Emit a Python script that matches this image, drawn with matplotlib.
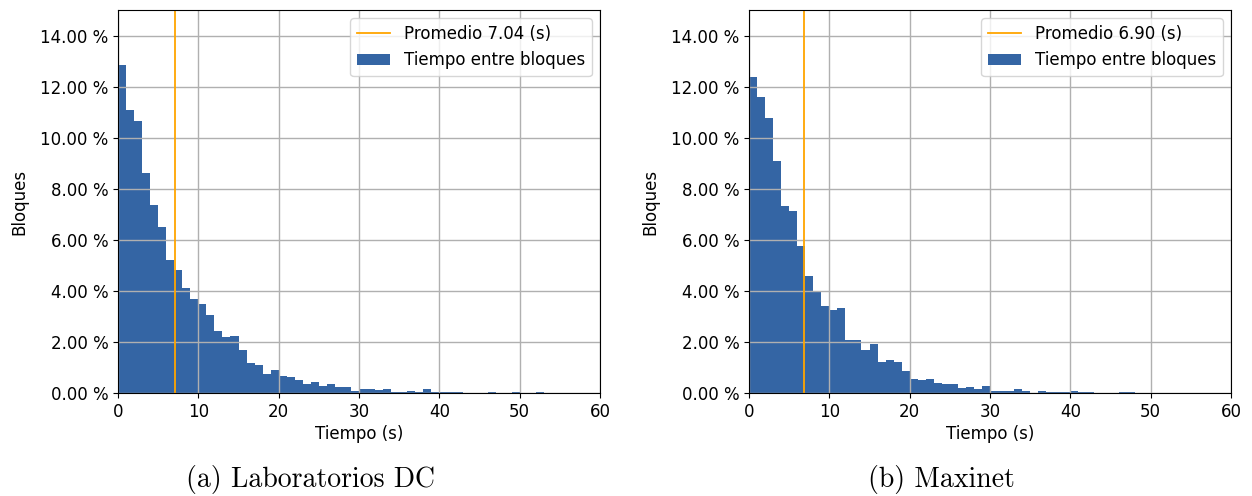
import matplotlib
matplotlib.use('Agg')
import matplotlib.pyplot as plt
from matplotlib.ticker import FuncFormatter
import numpy as np

# porcentaje de bloques por intervalo de 1 s (0..60 s)
lab_pct = [12.83, 11.07, 10.64, 8.61, 7.36, 6.50, 5.21, 4.82, 4.12, 3.69,
           3.49, 3.06, 2.44, 2.18, 2.24, 1.69, 1.19, 1.11, 0.76, 0.91,
           0.68, 0.64, 0.52, 0.37, 0.45, 0.28, 0.36, 0.24, 0.24, 0.09,
           0.16, 0.16, 0.12, 0.16, 0.02, 0.02, 0.08, 0.02, 0.16, 0.02,
           0.05, 0.02, 0.02, 0.01, 0.0, 0.0, 0.02, 0.0, 0.0, 0.02,
           0.0, 0.0, 0.02, 0.0, 0.0, 0.0, 0.0, 0.0, 0.0, 0.0]
max_pct = [12.37, 11.58, 10.76, 9.07, 7.32, 7.11, 5.74, 4.60, 3.95, 3.42,
           3.24, 3.31, 2.09, 2.09, 1.67, 1.90, 1.20, 1.31, 1.20, 0.85,
           0.56, 0.52, 0.56, 0.40, 0.36, 0.36, 0.20, 0.24, 0.16, 0.28,
           0.08, 0.08, 0.08, 0.16, 0.08, 0.0, 0.08, 0.02, 0.02, 0.02,
           0.08, 0.04, 0.04, 0.01, 0.01, 0.01, 0.02, 0.02, 0.0, 0.0,
           0.0, 0.0, 0.0, 0.0, 0.0, 0.0, 0.0, 0.0, 0.0, 0.0]
means = [7.04, 6.90]
captions = ["(a) Laboratorios DC", "(b) Maxinet"]
edges = np.arange(0, 61)

fig = plt.figure(figsize=(12.52, 4.96), dpi=100)
ax1 = fig.add_axes([118/1252, 1-393/496, 482/1252, 383/496])
ax2 = fig.add_axes([749/1252, 1-393/496, 482/1252, 383/496])
cap_x = [311/1252, 941/1252]

for ax, pct, mu, cap, cx in zip([ax1, ax2], [lab_pct, max_pct], means, captions, cap_x):
    ax.bar(edges[:-1], np.array(pct) / 100, width=1, align='edge',
           color='#3465a4', label='Tiempo entre bloques')
    ax.axvline(mu, color='orange', lw=1.3, label=f'Promedio {mu:.2f} (s)')
    ax.set_xlim(0, 60)
    ax.set_ylim(0, 0.15)
    ax.set_yticks(np.arange(0, 0.141, 0.02))
    ax.yaxis.set_major_formatter(FuncFormatter(lambda v, p: f'{v*100:.2f} %'))
    ax.grid(True, color='#b0b0b0', lw=1)
    ax.tick_params(labelsize=12)
    ax.set_xlabel('Tiempo (s)', fontsize=12, labelpad=3)
    ax.set_ylabel('Bloques', fontsize=12, labelpad=8)
    ax.legend(loc='upper right', fontsize=12, handlelength=2)
    fig.text(cx, 1 - 479/496, cap, ha='center', va='center',
             fontsize=20, family='cmr10')

fig.savefig('out.png', dpi=100)
